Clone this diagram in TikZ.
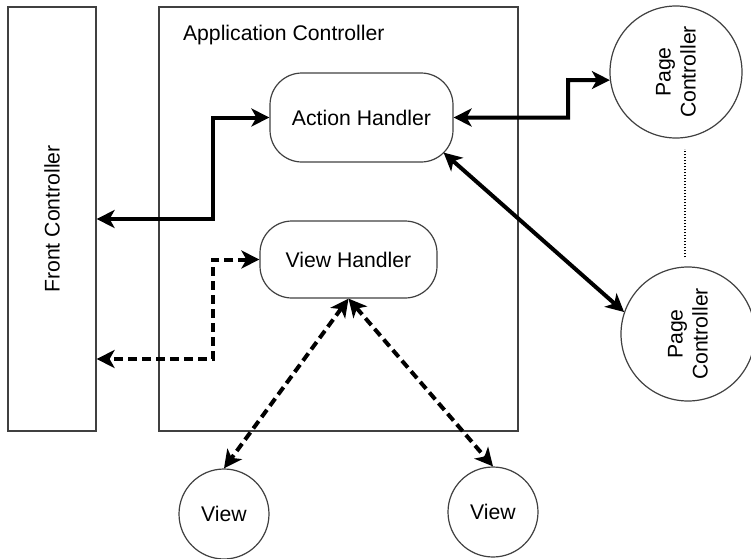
\documentclass[tikz,border=0pt]{standalone}
\usepackage{graphicx}
\usepackage{fontspec}
\setmainfont{Liberation Sans}
\usetikzlibrary{arrows.meta,calc}

\tikzset{
  box/.style={draw=black!75, line width=0.6pt, inner sep=0pt},
  handler/.style={box, rounded corners=16pt},
  ctrl/.style={box, circle},
  link/.style={line width=2pt,
    {Stealth[length=9pt,width=9pt,inset=2.5pt]}-{Stealth[length=9pt,width=9pt,inset=2.5pt]}},
  viewlink/.style={link, dash pattern=on 4.5pt off 2.5pt},
  dots/.style={line width=0.7pt, dash pattern=on 0.7pt off 0.8pt},
}

\begin{document}
\begin{tikzpicture}[x=0.5pt, y=-0.5pt, font=\fontsize{10.6}{12.5}\selectfont]
\useasboundingbox (0,0) rectangle (751,558);
% draw controllers
\node[box, minimum width=44pt, minimum height=212pt,
  label={[rotate=90]center:Front Controller}] (FC) at (52,219) {};
\node[box, minimum width=179.5pt, minimum height=212pt] (AC) at (338.5,219) {};
\node[anchor=west] (ACtitle) at (176,35) {Application Controller};
% handlers
\node[handler, minimum width=91.5pt, minimum height=44.5pt] (AH) at (361.5,117.5) {Action Handler};
\node[handler, minimum width=88.5pt, minimum height=38.5pt] (VH) at (348.5,259.5) {View Handler};
% page controllers and views
\node[ctrl, minimum size=66pt,
  label={[rotate=90, align=center]center:Page\\Controller}] (PC1) at (676,72) {};
\node[ctrl, minimum size=67pt,
  label={[rotate=90, align=center]center:Page\\Controller}] (PC2) at (688,334) {};
\node[ctrl, minimum size=45pt] (V1) at (224,514) {View};
\node[ctrl, minimum size=45pt] (V2) at (493,512) {View};
% connectors
\coordinate (bendA) at (213,219);
\coordinate (bendV) at (213,359);
\coordinate (bendP) at (568,80);
\draw[link] (AH.west) -| (bendA) -- (FC.east |- bendA);
\draw[viewlink] (VH.west) -| (bendV) -- (FC.east |- bendV);
\draw[link] (AH.east) -| (bendP) -- (PC1.187);
\draw[link] ([shift={(-10,-10)}]AH.south east) -- (PC2.161);
\draw[viewlink] (VH.south) -- (V1.north);
\draw[viewlink] (VH.south) -- (V2.north);
% dotted line between page controllers
\draw[dots] (PC2.north) ++(-3,-9) -- ++(0,-108);
\end{tikzpicture}
\end{document}
